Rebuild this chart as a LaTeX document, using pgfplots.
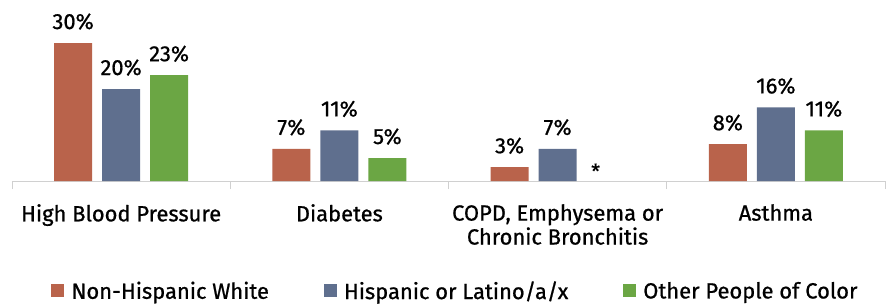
\documentclass[border=0pt]{standalone}
\usepackage{fontspec}
\setmainfont{Fira Sans}[FakeBold=0.8]
\usepackage{pgfplots}
\pgfplotsset{compat=1.18}
\definecolor{cW}{HTML}{B9634B}
\definecolor{cH}{HTML}{5F6F8E}
\definecolor{cO}{HTML}{6BA644}
\definecolor{axgray}{HTML}{D0D0D0}
\newcommand{\lblfont}{\fontsize{22}{24}\selectfont}
\begin{document}
\begin{tikzpicture}
\useasboundingbox (-12bp,-126bp) rectangle (883bp,181bp);
\begin{axis}[
  at={(0,0)}, anchor=south west,
  scale only axis, width=873bp, height=161bp,
  xmin=-0.5, xmax=3.5, ymin=0, ymax=35,
  axis y line=none, axis x line=bottom,
  x axis line style={-, draw=axgray, line width=1pt},
  xtick={0,1,2,3},
  xticklabels={High Blood Pressure, Diabetes, {COPD, Emphysema or\\Chronic Bronchitis}, Asthma},
  major tick length=0pt,
  minor xtick={-0.5,0.5,1.5,2.5,3.5},
  minor tick length=8bp, tick align=outside,
  minor tick style={draw=axgray, line width=1pt},
  xticklabel style={align=center, anchor=north, inner sep=0pt, yshift=-23bp, font=\lblfont},
  ybar, bar width=38bp,
  nodes near coords={\pgfmathprintnumber[assume math mode=true]{\pgfplotspointmeta}\%},
  nodes near coords style={anchor=base, inner sep=0pt, yshift=14bp, font=\lblfont, text=black},
  legend columns=3,
  legend style={draw=none, at={(0.508,-0.683)}, anchor=center, font=\lblfont,
    /tikz/every odd column/.append style={column sep=5bp},
    /tikz/every even column/.append style={column sep=53bp}},
  legend image code/.code={\fill[#1,draw=none] (0bp,-6.5bp) rectangle (13bp,6.5bp);},
  clip=false,
]
\addplot[fill=cW, draw=none, bar shift=-48bp] coordinates {(0,30) (1,7) (2,3) (3,8)};
\addplot[fill=cH, draw=none, bar shift=0bp] coordinates {(0,20) (1,11) (2,7) (3,16)};
\addplot[fill=cO, draw=none, bar shift=48bp] coordinates {(0,23) (1,5) (3,11)};
\legend{Non-Hispanic White, Hispanic or Latino/a/x, Other People of Color}
\node[font=\fontsize{20}{22}\selectfont, inner sep=0pt] at (axis cs:2,0) [xshift=38bp, yshift=10bp] {*};
\end{axis}
\end{tikzpicture}
\end{document}
